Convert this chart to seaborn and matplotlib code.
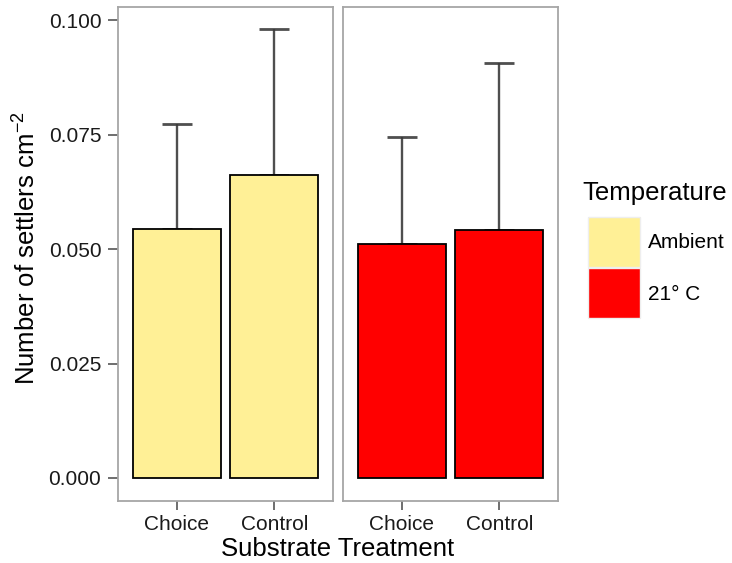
import matplotlib
matplotlib.use("Agg")
import matplotlib.pyplot as plt
from matplotlib.patches import Rectangle
import seaborn as sns
import pandas as pd

# Settlement density (mean and upper standard error) per substrate and temperature
substrates = ["Choice", "Control"]
temperatures = ["Ambient", "21° C"]
ambient_mean = [0.0543, 0.0661]
ambient_se = [0.0230, 0.0319]
warm_mean = [0.0510, 0.0541]
warm_se = [0.0234, 0.0366]
y_ticks = [0.000, 0.025, 0.050, 0.075, 0.100]
y_tick_labels = ["0.000", "0.025", "0.050", "0.075", "0.100"]
fill_colors = ["#FFF096", "#FF0000"]

df = pd.DataFrame({
    "substrate": substrates * 2,
    "temperature": [temperatures[0]] * 2 + [temperatures[1]] * 2,
    "settlers": ambient_mean + warm_mean,
    "se": ambient_se + warm_se,
})

sns.set_theme(style="white")
plt.rcParams["font.family"] = ["Liberation Sans", "DejaVu Sans"]
plt.rcParams["mathtext.default"] = "regular"

W, H = 732, 563
fig = plt.figure(figsize=(W / 100, H / 100), dpi=100)


def fx(px):
    return px / W


def fy(py):
    return 1 - py / H


panel_top, panel_bottom = 7.3, 500.7
panel_lefts = [118, 343]
panel_w = 215
ylim = (-0.00496, 0.1028)

axes = []
for i, (temp, color) in enumerate(zip(temperatures, fill_colors)):
    ax = fig.add_axes([fx(panel_lefts[i]), fy(panel_bottom), fx(panel_w),
                       (panel_bottom - panel_top) / H])
    sub = df[df["temperature"] == temp]
    ax.errorbar(x=range(len(sub)), y=sub["settlers"],
                yerr=[[0] * len(sub), sub["se"].tolist()],
                fmt="none", ecolor="#3c3c3c", elinewidth=1.7,
                capsize=10.8, capthick=2.0, zorder=1, alpha=0.9)
    sns.barplot(data=sub, x="substrate", y="settlers", order=substrates,
                color=color, saturation=1, width=0.9, edgecolor="black",
                linewidth=1.3, errorbar=None, ax=ax, zorder=2)
    ax.set_xlim(-0.6, 1.6)
    ax.set_ylim(*ylim)
    ax.set_xlabel("")
    ax.set_ylabel("")
    for sp in ax.spines.values():
        sp.set_visible(True)
        sp.set_color("#a6a6a6")
        sp.set_linewidth(1.3)
    ax.tick_params(axis="x", length=6.5, width=1.2, color="#555555",
                   pad=4, labelsize=15, labelcolor="#1a1a1a", bottom=True)
    ax.set_yticks(y_ticks)
    if i == 0:
        ax.set_yticklabels(y_tick_labels)
        ax.tick_params(axis="y", length=7, width=1.2, color="#555555",
                       pad=5, labelsize=15, labelcolor="#1a1a1a", left=True)
    else:
        ax.tick_params(axis="y", left=False, labelleft=False)
    ax.grid(False)
    axes.append(ax)

# Axis titles
fig.text(fx(338), fy(549), "Substrate Treatment", ha="center", va="center",
         fontsize=18.5, color="black")
fig.text(fx(27), fy(248), "Number of settlers cm$^{-2}$", ha="center",
         va="center", rotation=90, fontsize=18.5, color="black")

# Legend
fig.text(fx(582), fy(193), "Temperature", ha="left", va="center",
         fontsize=18.5, color="black")
key_x, key_w = 588, 52
key_tops = [217, 268]
key_h = 50
for top, color, label in zip(key_tops, fill_colors, temperatures):
    fig.add_artist(Rectangle((fx(key_x), fy(top + key_h)), fx(key_w), key_h / H,
                             transform=fig.transFigure, facecolor=color,
                             edgecolor="#eeeeee", linewidth=1.0))
    fig.text(fx(648), fy(top + key_h / 2 + 1), label, ha="left", va="center",
             fontsize=15, color="black")

fig.savefig("out.png", dpi=100)
